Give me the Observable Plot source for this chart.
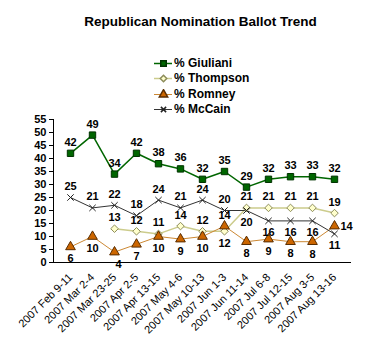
<!DOCTYPE html>
<html>
<head>
<meta charset="utf-8">
<script src="https://cdn.jsdelivr.net/npm/d3@7"></script>
<script src="https://cdn.jsdelivr.net/npm/@observablehq/plot@0.6"></script>
<style>
  body { margin: 0; background: #fff; font-family: Arial, "Liberation Sans", sans-serif; }
  #wrap { position: relative; width: 365px; height: 351px; overflow: hidden; background: #fff; }
  #title { position: absolute; left: 0; width: 401px; top: 14px; text-align: center; font-weight: bold; font-size: 13.5px; color: #000; z-index: 2; }
  #legend { position: absolute; left: 154px; top: 55px; font-size: 12px; font-weight: bold; z-index: 2; color: #000; }
  #legend .row { display: flex; align-items: center; height: 15.5px; }
  #legend svg { margin-right: 2px; background: transparent; }
  #chart { position: absolute; left: 0; top: 110px; z-index: 1; }
  #chart svg { background: transparent; overflow: visible; }
</style>
</head>
<body>
<div id="wrap">
  <div id="chart"></div>
  <div id="title">Republican Nomination Ballot Trend</div>
  <div id="legend"></div>
</div>
<script>
const dates = ["2007 Feb 9-11","2007 Mar 2-4","2007 Mar 23-25","2007 Apr 2-5","2007 Apr 13-15","2007 May 4-6","2007 May 10-13","2007 Jun 1-3","2007 Jun 11-14","2007 Jul 6-8","2007 Jul 12-15","2007 Aug 3-5","2007 Aug 13-16"];
const seriesNames = ["% Giuliani","% Thompson","% Romney","% McCain"];
const giuliani = [42,49,34,42,38,36,32,35,29,32,33,33,32];
const thompson = [null,null,13,12,11,14,12,12,21,21,21,21,19];
const romney   = [6,10,4,7,10,9,10,14,8,9,8,8,14];
const mccain   = [25,21,22,18,24,21,24,20,20,16,16,16,11];
const yTicks = [0,5,10,15,20,25,30,35,40,45,50,55];

const styles = {
  "% Giuliani": {line: "#006600", symbol: "square", fill: "#006600", stroke: "#003300", r: 3.6, sw: 1.5},
  "% Thompson": {line: "#cccc8c", symbol: "diamond2", fill: "#ffffcc", stroke: "#8c8c5a", r: 3.4, sw: 1.5},
  "% Romney":   {line: "#cc8833", symbol: "triangle", fill: "#cc6600", stroke: "#5a2d00", r: 3.6, sw: 1},
  "% McCain":   {line: "#333333", symbol: "times", fill: "none", stroke: "#222222", r: 3, sw: 1}
};
const valuesBy = {"% Giuliani": giuliani, "% Thompson": thompson, "% Romney": romney, "% McCain": mccain};

// label placement rules (code, not data)
const below = {
  "% Giuliani": new Set(),
  "% Thompson": new Set([7]),
  "% Romney": new Set([0,1,2,3,4,5,6,8,9,10,11]),
  "% McCain": new Set([8,9,10,11,12])
};
const rows = [];
for (const s of seriesNames) {
  valuesBy[s].forEach((v, i) => {
    if (v == null) return;
    let dy = below[s].has(i) ? 12 : -11;
    let dx = 0;
    if (s === "% Romney" && i === 2) { dx = 4; dy = 12; }
    if (s === "% Romney" && i === 12) { dx = 12; dy = 0; }
    if (s === "% Romney" && i === 11) { dy = 13; }
    rows.push({series: s, date: dates[i], value: v, dx, dy});
  });
}

const marks = [
  Plot.ruleY([0], {stroke: "#000", strokeWidth: 1}),
  Plot.axisY({ticks: yTicks, tickSize: 4, tickPadding: 3, fontWeight: "bold", fontSize: 11, fill: "#000", stroke: "#000", label: null})
];
for (const s of seriesNames) {
  const st = styles[s];
  const d = rows.filter(r => r.series === s);
  marks.push(Plot.line(d, {x: "date", y: "value", stroke: st.line, strokeWidth: st.sw}));
}
for (const s of seriesNames) {
  const st = styles[s];
  const d = rows.filter(r => r.series === s);
  marks.push(Plot.dot(d, {x: "date", y: "value", symbol: () => st.symbol, r: st.r, fill: st.fill, stroke: st.stroke, strokeWidth: 1}));
}
for (const s of seriesNames) {
  const d = rows.filter(r => r.series === s);
  for (const r of d) {
    marks.push(Plot.text([r], {x: "date", y: "value", text: "value", dx: r.dx, dy: r.dy, fontWeight: "bold", fontSize: 11, fill: "#000"}));
  }
}
marks.push(Plot.axisX({tickRotate: -45, tickSize: 0, tickPadding: 13, fontSize: 11, fill: "#000", label: null}));

const chart = Plot.plot({
  width: 365,
  height: 241,
  marginTop: 9,
  marginLeft: 53,
  marginRight: 14,
  marginBottom: 89,
  style: {fontFamily: "Arial, 'Liberation Sans', sans-serif", color: "#000", background: "transparent", overflow: "visible"},
  x: {type: "point", domain: dates, padding: 0.6},
  y: {domain: [0, 55]},
  marks: [
    ...marks,
    Plot.frame({anchor: "left", stroke: "#000"})
  ]
});
document.getElementById("chart").appendChild(chart);

// legend
const leg = document.getElementById("legend");
for (const s of seriesNames) {
  const st = styles[s];
  const row = document.createElement("div");
  row.className = "row";
  const ls = Plot.plot({
    width: 18, height: 10, margin: 0, axis: null,
    style: {background: "transparent"},
    x: {domain: [0, 1]}, y: {domain: [0, 1]},
    marks: [
      Plot.ruleY([0.5], {stroke: st.line, strokeWidth: st.sw}),
      Plot.dot([{x: 0.5, y: 0.5}], {x: "x", y: "y", symbol: () => st.symbol, r: st.r - 0.5, fill: st.fill, stroke: st.stroke})
    ]
  });
  row.appendChild(ls);
  const t = document.createElement("span");
  t.textContent = s;
  row.appendChild(t);
  leg.appendChild(row);
}
</script>
</body>
</html>
